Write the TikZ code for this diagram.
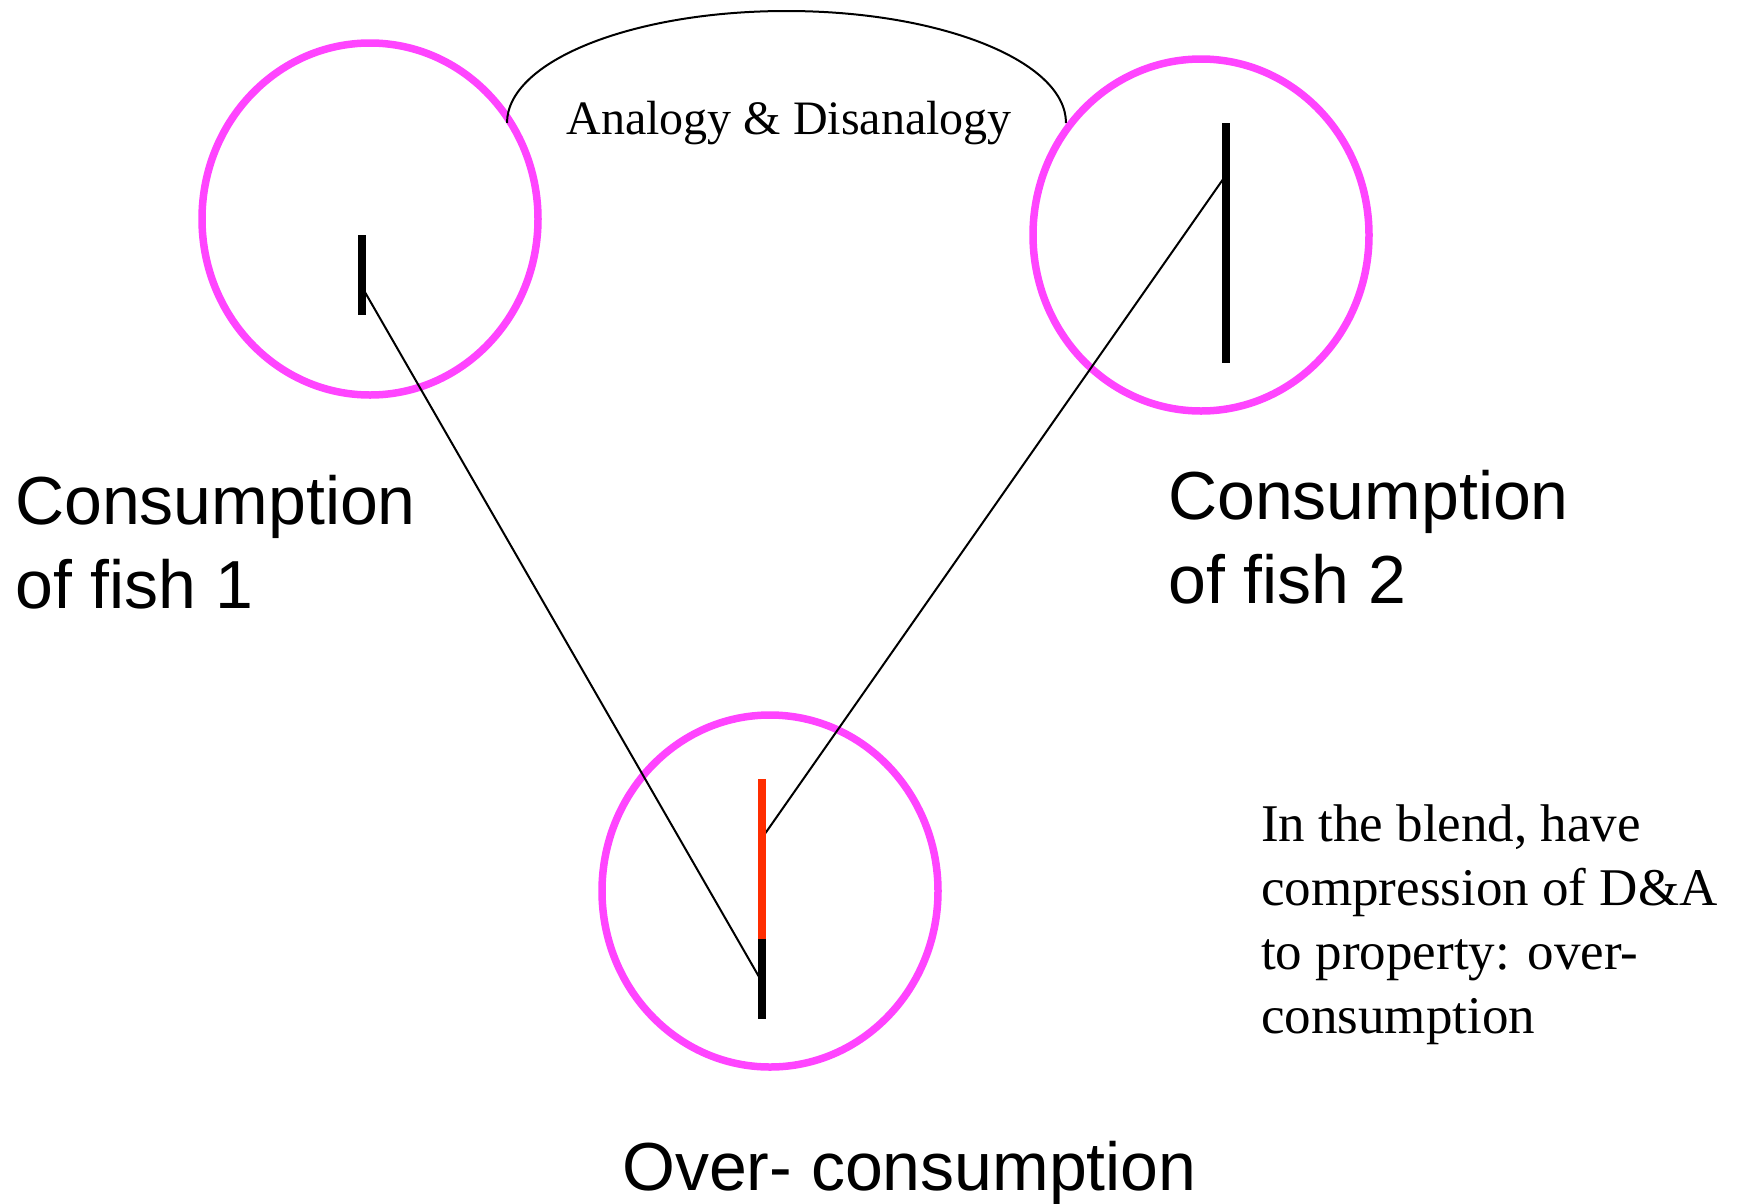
\documentclass[tikz,border=0pt]{standalone}
\usepackage{fontspec}
\setmainfont{Liberation Serif}
\newfontfamily\labelsans{Liberation Sans}
\usetikzlibrary{shapes.geometric}
\definecolor{spacepink}{RGB}{255,68,255}
\definecolor{blendred}{RGB}{255,45,0}
\tikzset{
  space/.style={ellipse,draw=spacepink,line width=7.5pt,inner sep=0pt,minimum width=336pt,minimum height=352pt},
  bar/.style={line width=8pt},
  link/.style={line width=2pt},
  biglabel/.style={font=\labelsans\fontsize{68}{84}\selectfont,align=left,inner sep=0pt,anchor=base west},
  note/.style={font=\fontsize{53}{64}\selectfont,align=left,inner sep=0pt,anchor=base west}
}
\begin{document}
\begin{tikzpicture}[x=1pt,y=-1pt]
\useasboundingbox (0,0) rectangle (1742,1203);
% mental spaces
\node[space] (s1) at (370,219) {};
\node[space] (s2) at (1201,235) {};
\node[space] (s3) at (770,891) {};
% anchor points for connectors
\coordinate (p1) at (362,287);
\coordinate (p2) at (1226,175);
\coordinate (q1) at (762,982);
\coordinate (q2) at (762,838);
\coordinate (a1) at (507,123);
% connectors
\draw[link] (p1) -- (q1);
\draw[link] (p2) -- (q2);
\draw[line width=2pt] (a1) arc[start angle=-180,end angle=0,x radius=279.5,y radius=112] coordinate (a2);
% bars
\draw[bar] (362,235) -- (362,315);
\draw[bar] (1226,123) -- (1226,363);
\draw[bar,blendred] (762,779) -- (762,939);
\draw[bar] (762,939) -- (762,1019);
% labels
\node[font=\fontsize{48}{58}\selectfont,inner sep=0pt,anchor=base] (an) at (789,134) {Analogy \& Disanalogy};
\node[biglabel] (l1) at (15,608) {Consumption\\of fish 1};
\node[biglabel] (l2) at (1168,603) {Consumption\\of fish 2};
\node[biglabel] (l3) at (622,1190) {Over- consumption};
\node[note] (n1) at (1261,1033) {In the blend, have\\compression of D\&A\\to property: over-\\consumption};
\end{tikzpicture}
\end{document}
